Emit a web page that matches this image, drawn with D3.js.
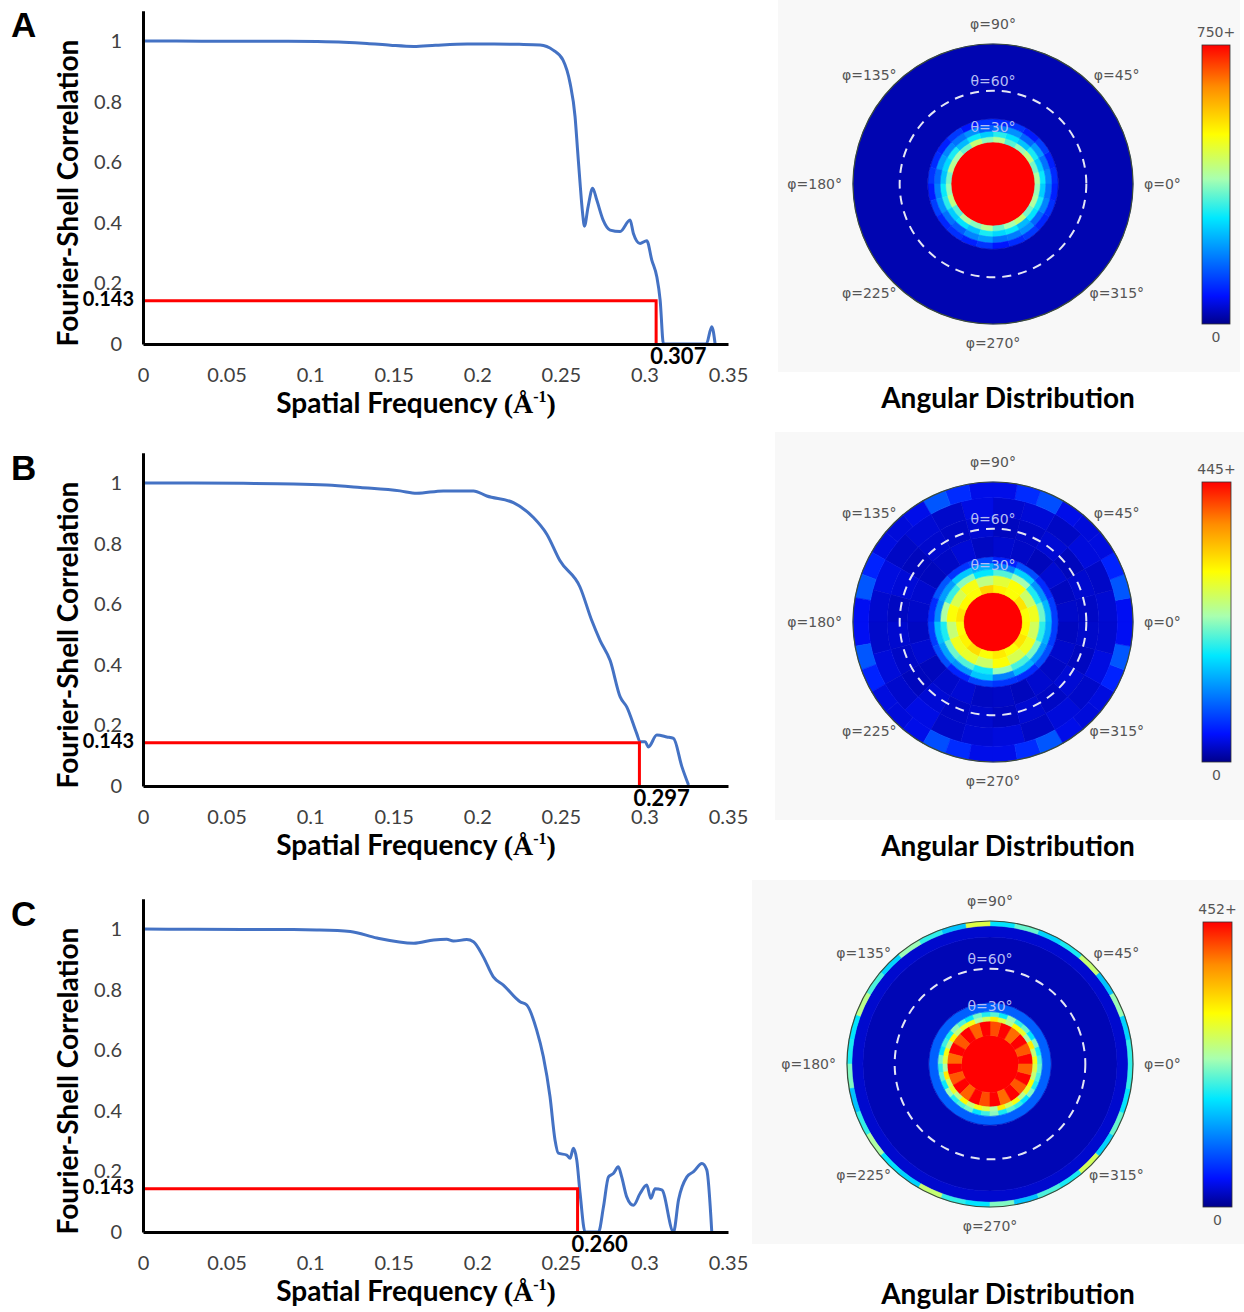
<html>
<head>
<meta charset="utf-8">
<title>FSC and angular distribution</title>
<script type="text/javascript" src="https://cdn.jsdelivr.net/npm/d3@7"></script>
<style>
  * { margin: 0; padding: 0; }
  body { background: #fff; }
  svg { display: block; }
</style>
</head>
<body>
<svg id="fig" width="1244" height="1312"></svg>
<script type="text/javascript">
// ---- FSC curves: spatial frequency (1/A) and correlation ----
var freqA = [0, 0.02, 0.05, 0.08, 0.104, 0.12, 0.134, 0.148, 0.162, 0.175, 0.194, 0.21, 0.225, 0.2376, 0.2454, 0.2513, 0.2555, 0.2585, 0.26, 0.2615, 0.263, 0.2641, 0.2663, 0.269, 0.2715, 0.2753, 0.2795, 0.2855, 0.2914, 0.2934, 0.2974, 0.3014, 0.3044, 0.3074, 0.3094, 0.3114, 0.337, 0.3403, 0.3423];
var fscA  = [1.0, 1.0, 0.999, 0.999, 0.998, 0.996, 0.992, 0.986, 0.982, 0.986, 0.99, 0.99, 0.989, 0.987, 0.97, 0.937, 0.861, 0.75, 0.64, 0.53, 0.432, 0.389, 0.453, 0.514, 0.475, 0.409, 0.376, 0.371, 0.409, 0.365, 0.332, 0.341, 0.277, 0.222, 0.145, 0.0, 0.0, 0.057, 0.0];

var freqB = [0, 0.03, 0.06, 0.09, 0.11, 0.13, 0.1538, 0.1638, 0.1797, 0.1977, 0.2057, 0.2216, 0.2336, 0.2416, 0.2495, 0.2615, 0.2685, 0.2735, 0.2795, 0.2855, 0.2894, 0.2954, 0.2974, 0.3004, 0.3024, 0.3074, 0.3134, 0.3174, 0.3224, 0.3264];
var fscB  = [1.0, 1.0, 0.999, 0.997, 0.993, 0.985, 0.974, 0.966, 0.974, 0.974, 0.957, 0.935, 0.886, 0.831, 0.743, 0.656, 0.546, 0.48, 0.414, 0.294, 0.261, 0.173, 0.146, 0.146, 0.129, 0.168, 0.162, 0.157, 0.064, 0.003];

var freqC = [0, 0.03, 0.06, 0.09, 0.104, 0.124, 0.14, 0.162, 0.174, 0.1817, 0.1857, 0.1937, 0.1977, 0.2036, 0.2096, 0.2156, 0.2256, 0.2296, 0.2355, 0.2395, 0.2435, 0.2465, 0.2485, 0.2535, 0.2555, 0.2575, 0.2595, 0.2615, 0.2645, 0.2725, 0.2755, 0.2785, 0.2814, 0.2844, 0.2864, 0.2894, 0.2934, 0.2974, 0.3014, 0.3038, 0.3064, 0.3104, 0.3174, 0.3204, 0.3254, 0.3294, 0.3344, 0.3373, 0.3403];
var fscC  = [1.0, 0.999, 0.998, 0.998, 0.997, 0.992, 0.97, 0.953, 0.964, 0.966, 0.96, 0.965, 0.958, 0.908, 0.842, 0.815, 0.76, 0.749, 0.667, 0.579, 0.447, 0.304, 0.26, 0.254, 0.243, 0.276, 0.238, 0.128, 0.0, 0.0, 0.083, 0.182, 0.193, 0.215, 0.182, 0.116, 0.088, 0.127, 0.155, 0.111, 0.143, 0.139, 0.0, 0.106, 0.182, 0.199, 0.226, 0.205, 0.0];

var threshold = 0.143;
var cutoffs = [0.307, 0.297, 0.260];
var xTicks = [0, 0.05, 0.1, 0.15, 0.2, 0.25, 0.3, 0.35];
var yTicks = [0, 0.2, 0.4, 0.6, 0.8, 1];
var letters = ["A", "B", "C"];

// ---- angular distributions: theta bands (deg) with counts per phi sector ----
var maxCounts = [750, 445, 452];
var maxLabels = ["750+", "445+", "452+"];
var thetaGuides = [30, 60];
var phiLabels = [0, 45, 90, 135, 180, 225, 270, 315];

var ringsA = [
  {t0: 0, t1: 27, v: [800]},
  {t0: 27, t1: 30.5, v: [400, 360, 420, 380, 340, 410, 370, 430, 350, 390, 410, 360, 380, 420, 340, 400, 370, 410, 350, 390, 430, 360, 400, 380]},
  {t0: 30.5, t1: 34, v: [290, 260, 300, 250, 280, 310, 260, 290, 240, 300, 270, 250, 290, 310, 260, 280, 250, 300, 270, 290, 240, 280, 300, 260]},
  {t0: 34, t1: 38, v: [190, 170, 210, 160, 200, 180, 150, 200, 170, 190, 210, 160, 180, 200, 170, 150, 190, 210, 170, 180, 200, 160, 190, 170]},
  {t0: 38, t1: 42, v: [100, 90, 120, 85, 110, 95, 105, 80, 115, 90, 100, 110, 85, 120, 95, 105, 90, 110, 80, 100, 115, 95, 105, 90]},
  {t0: 42, t1: 90, v: [24]}
];

var ringsB = [
  {t0: 0, t1: 19, v: [500]},
  {t0: 19, t1: 24, v: [300, 320, 300, 310, 330, 300, 305, 320, 300, 310, 325, 300, 315, 300, 320, 305]},
  {t0: 24, t1: 30, v: [290, 260, 300, 280, 250, 295, 270, 300, 255, 290, 285, 260, 300, 270, 290, 265]},
  {t0: 30, t1: 34, v: [210, 180, 230, 200, 170, 220, 190, 235, 180, 210, 200, 175, 225, 195, 215, 185]},
  {t0: 34, t1: 38, v: [140, 120, 155, 110, 135, 150, 125, 115, 145, 130, 120, 150, 110, 140, 125, 135]},
  {t0: 38, t1: 42, v: [70, 60, 80, 55, 75, 65, 85, 60, 70, 80, 55, 75, 65, 60, 80, 70]},
  {t0: 42, t1: 55, v: [24, 20, 27, 18, 23, 26, 21, 29, 22, 19, 26, 24, 21, 27, 19, 24, 28, 21, 23, 19, 26, 22, 25, 20]},
  {t0: 55, t1: 68, v: [22, 26, 19, 28, 23, 20, 27, 22, 25, 19, 29, 21, 26, 23, 19, 28, 22, 25, 20, 27, 22, 28, 20, 24]},
  {t0: 68, t1: 80, v: [27, 23, 31, 22, 29, 26, 34, 24, 28, 22, 32, 26, 24, 30, 25, 34, 23, 28, 31, 22, 30, 24, 33, 26]},
  {t0: 80, t1: 90, v: [40, 85, 55, 32, 30, 36, 80, 60, 36, 36, 60, 85, 36, 30, 32, 55, 85, 40, 40, 85, 55, 32, 30, 36, 80, 60, 36, 36, 60, 85, 36, 30, 32, 55, 85, 40]}
];

var ringsC = [
  {t0: 0, t1: 18, v: [520]},
  {t0: 18, t1: 27, v: [510, 410, 510, 400, 510, 415, 510, 405, 510, 410, 510, 400, 510, 410, 510, 405, 510, 415, 510, 400, 510, 410, 510, 405]},
  {t0: 27, t1: 30, v: [300, 260, 320, 240, 290, 310, 250, 280, 320, 270, 240, 300, 290, 260, 310, 250, 300, 280, 240, 320, 270, 290, 250, 310, 260, 300, 280, 240, 320, 270, 300, 250, 290, 310, 260, 280]},
  {t0: 30, t1: 33, v: [200, 180, 220, 170, 210, 190, 230, 175, 205, 185, 215, 170, 200, 225, 180, 195, 170, 215, 190, 205, 175, 230, 185, 200, 215, 170, 195, 225, 180, 205, 190, 170, 220, 185, 200, 210]},
  {t0: 33, t1: 38.6, v: [92]},
  {t0: 38.6, t1: 80, v: [16]},
  {t0: 80, t1: 87, v: [26]},
  {t0: 87, t1: 90, v: [190, 160, 230, 150, 260, 180, 160, 210, 170, 280, 150, 190, 230, 160, 200, 250, 170, 180, 220, 150, 190, 240, 170, 160, 260, 190, 170, 220, 150, 200, 180, 270, 160, 210, 170, 190]}
];

// jet-like colour map (fraction of max -> colour)
var jetStops = [0, 0.1, 0.38, 0.52, 0.68, 0.85, 1];
var jetColors = ["#00008c", "#0010ff", "#00e8ff", "#a8ffb0", "#ffff00", "#ff8c00", "#ff0000"];

// ---- layout ----
var panels = [
  {axisY: 344, letterY: 37, cx: 993, cy: 184, R: 140, bg: [778, 0, 462, 372], bar: [1202, 45, 28, 279], titleY: 408},
  {axisY: 786, letterY: 480, cx: 993, cy: 622, R: 140, bg: [775, 432, 469, 388], bar: [1202, 482, 29, 280], titleY: 856},
  {axisY: 1232, letterY: 926, cx: 990, cy: 1064, R: 143, bg: [752, 880, 492, 364], bar: [1203, 922, 29, 285], titleY: 1304}
];

var fscData = [[freqA, fscA], [freqB, fscB], [freqC, fscC]];
var ringData = [ringsA, ringsB, ringsC];

var svg = d3.select("#fig");
var sans = "Lato, 'Open Sans', sans-serif";
var xScale = d3.scaleLinear().domain([0, 0.35]).range([143, 728]);

var drawFsc = function(p, i) {
  var g = svg.append("g");
  var y = d3.scaleLinear().domain([0, 1.1]).range([p.axisY, p.axisY - 333.3]);
  var freq = fscData[i][0], fsc = fscData[i][1];
  var pts = freq.map(function(f, k) { return [f, fsc[k]]; });

  g.append("text").attr("x", 11).attr("y", p.letterY)
    .attr("font-family", "'Liberation Sans', Arial, sans-serif").attr("font-weight", "bold")
    .attr("font-size", 35).text(letters[i]);

  var line = d3.line()
    .x(function(d) { return xScale(d[0]); })
    .y(function(d) { return y(d[1]); })
    .curve(d3.curveMonotoneX);
  g.append("path").attr("d", line(pts))
    .attr("fill", "none").attr("stroke", "#4472c4").attr("stroke-width", 3)
    .attr("stroke-linejoin", "round");

  // 0.143 threshold
  var xc = xScale(cutoffs[i]), yt = y(threshold);
  g.append("path").attr("d", "M" + xScale(0) + "," + yt + "H" + xc + "V" + p.axisY)
    .attr("fill", "none").attr("stroke", "#ff0000").attr("stroke-width", 3);

  var xAxis = g.append("g").attr("transform", "translate(0," + p.axisY + ")")
    .call(d3.axisBottom(xScale).tickValues(xTicks).tickSize(0).tickSizeOuter(0).tickPadding(24).tickFormat(d3.format("~g")));
  var yAxis = g.append("g").attr("transform", "translate(" + xScale(0) + ",0)")
    .call(d3.axisLeft(y).tickValues(yTicks).tickSize(0).tickSizeOuter(0).tickPadding(21).tickFormat(d3.format("~g")));
  [xAxis, yAxis].forEach(function(a) {
    a.select(".domain").attr("stroke", "#000").attr("stroke-width", 3);
    a.selectAll("text").attr("font-family", sans).attr("font-size", 20).attr("fill", "#404040");
  });

  g.append("text").attr("x", xScale(0) - 9).attr("y", yt + 5).attr("text-anchor", "end")
    .attr("font-family", sans).attr("font-weight", "bold").attr("font-size", 20).text(threshold);
  g.append("text").attr("x", xc - 6).attr("y", p.axisY + 20)
    .attr("font-family", sans).attr("font-weight", "bold").attr("font-size", 22)
    .text(d3.format(".3f")(cutoffs[i]));

  // axis titles
  var xt = g.append("text").attr("x", 416).attr("y", p.axisY + 69).attr("text-anchor", "middle")
    .attr("font-family", sans).attr("font-weight", "bold").attr("font-size", 28);
  xt.append("tspan").text("Spatial Frequency ");
  xt.append("tspan").attr("font-family", "'Liberation Serif', serif").text("(\u00c5");
  xt.append("tspan").attr("font-family", "'Liberation Serif', serif").attr("font-size", 16).attr("dy", -11).text("-1");
  xt.append("tspan").attr("font-family", "'Liberation Serif', serif").attr("dy", 11).text(")");

  g.append("text")
    .attr("transform", "translate(78," + (p.axisY - 151) + ") rotate(-90)")
    .attr("text-anchor", "middle").attr("font-family", sans).attr("font-weight", "bold")
    .attr("font-size", 28).text("Fourier-Shell Correlation");
};

var drawPolar = function(p, i) {
  var g = svg.append("g");
  var maxV = maxCounts[i];
  var color = d3.scaleLinear().domain(jetStops.map(function(s) { return s * maxV; }))
    .range(jetColors).clamp(true);
  var r = d3.scaleLinear().domain([0, 90]).range([0, p.R]);
  var arc = d3.arc();

  g.append("rect").attr("x", p.bg[0]).attr("y", p.bg[1]).attr("width", p.bg[2]).attr("height", p.bg[3])
    .attr("fill", "#f8f8f8");

  var disk = g.append("g").attr("transform", "translate(" + p.cx + "," + p.cy + ")");
  ringData[i].forEach(function(ring) {
    var n = ring.v.length;
    ring.v.forEach(function(v, k) {
      // phi counter-clockwise from the right, d3 angles clockwise from top
      var phi0 = k * 360 / n, phi1 = (k + 1) * 360 / n;
      disk.append("path")
        .attr("d", arc({innerRadius: r(ring.t0), outerRadius: r(ring.t1),
          startAngle: (90 - phi1) * Math.PI / 180, endAngle: (90 - phi0) * Math.PI / 180}))
        .attr("fill", color(v)).attr("stroke", color(v)).attr("stroke-width", 0.6);
    });
  });
  disk.append("circle").attr("r", p.R).attr("fill", "none").attr("stroke", "#3a4a3a").attr("stroke-width", 1.2);
  disk.append("circle").attr("r", r(60)).attr("fill", "none").attr("stroke", "#e4e6f4")
    .attr("stroke-width", 2).attr("stroke-dasharray", "9,7");

  thetaGuides.forEach(function(t) {
    disk.append("text").attr("x", 0).attr("y", -r(t) - 5).attr("text-anchor", "middle")
      .attr("font-family", "'DejaVu Sans', sans-serif").attr("font-size", 14)
      .attr("fill", "#b4bcf4").text("\u03b8=" + t + "\u00b0");
  });

  phiLabels.forEach(function(phi) {
    var a = phi * Math.PI / 180;
    var dx = Math.cos(a), dy = -Math.sin(a);
    var x, yy, anchor = "middle";
    if (phi === 0) { x = p.R + 11; yy = 5; anchor = "start"; }
    else if (phi === 180) { x = -p.R - 11; yy = 5; anchor = "end"; }
    else if (phi === 90) { x = 0; yy = -p.R - 15; }
    else if (phi === 270) { x = 0; yy = p.R + 24; }
    else { x = dx * p.R * 1.25; yy = dy * p.R * 1.1 + 5; }
    disk.append("text").attr("x", x).attr("y", yy).attr("text-anchor", anchor)
      .attr("font-family", "'DejaVu Sans', sans-serif").attr("font-size", 14)
      .attr("fill", "#555").text("\u03c6=" + phi + "\u00b0");
  });

  // colour bar
  var gid = "jet" + i;
  var grad = svg.append("defs").append("linearGradient").attr("id", gid)
    .attr("x1", 0).attr("y1", 1).attr("x2", 0).attr("y2", 0);
  jetStops.forEach(function(s, k) {
    grad.append("stop").attr("offset", s).attr("stop-color", jetColors[k]);
  });
  var b = p.bar;
  g.append("rect").attr("x", b[0]).attr("y", b[1]).attr("width", b[2]).attr("height", b[3])
    .attr("fill", "url(#" + gid + ")").attr("stroke", "#333").attr("stroke-width", 0.8);
  g.append("text").attr("x", b[0] + b[2] / 2).attr("y", b[1] - 8).attr("text-anchor", "middle")
    .attr("font-family", "'DejaVu Sans', sans-serif").attr("font-size", 14).attr("fill", "#555")
    .text(maxLabels[i]);
  g.append("text").attr("x", b[0] + b[2] / 2).attr("y", b[1] + b[3] + 18).attr("text-anchor", "middle")
    .attr("font-family", "'DejaVu Sans', sans-serif").attr("font-size", 14).attr("fill", "#555")
    .text("0");

  g.append("text").attr("x", 1008).attr("y", p.titleY).attr("text-anchor", "middle")
    .attr("font-family", sans).attr("font-weight", "bold").attr("font-size", 28)
    .text("Angular Distribution");
};

panels.forEach(function(p, i) {
  drawPolar(p, i);
  drawFsc(p, i);
});
</script>
</body>
</html>
